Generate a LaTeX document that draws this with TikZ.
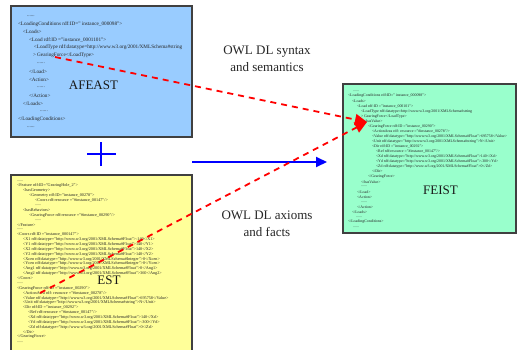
\documentclass[tikz,border=0pt]{standalone}
\usepackage{fontspec}
\setmainfont{Liberation Serif}
\usetikzlibrary{arrows.meta}
\definecolor{afeblue}{RGB}{153,204,255}
\definecolor{estyellow}{RGB}{255,255,153}
\definecolor{feistgreen}{RGB}{153,255,204}
\definecolor{owlred}{RGB}{255,0,0}
\definecolor{flowblue}{RGB}{0,0,255}
\tikzset{
  docbox/.style={draw=black!75, line width=1.2pt, anchor=north west, inner sep=0pt, outer sep=0pt},
  xmlbase/.style={anchor=west, inner sep=0pt, outer sep=0pt, text=black!85},
  afetext/.style={xmlbase, font=\fontsize{5.2}{6}\selectfont},
  esttext/.style={xmlbase, font=\fontsize{4.2}{5}\selectfont},
  feisttext/.style={xmlbase, font=\fontsize{3.9}{4.5}\selectfont},
  boxtitle/.style={inner sep=0pt, font=\fontsize{13}{15}\selectfont, text=black!90},
  mapping/.style={align=center, inner sep=0pt, font=\fontsize{13}{17}\selectfont, text=black!85},
  mapline/.style={draw=owlred, line width=1.8pt, dash pattern=on 6pt off 5pt,
    -{Triangle[length=12pt,width=11pt]}},
  flowline/.style={draw=flowblue, line width=2pt, -{Triangle[length=11pt,width=10pt]}}
}
\begin{document}
\begin{tikzpicture}[x=1pt, y=-1pt]
\useasboundingbox (0,0) rectangle (517,349);
\clip (0,0) rectangle (517,349);
\fill[white] (0,0) rectangle (517,349);

% the three documents
\node[docbox, fill=afeblue, minimum width=181pt, minimum height=131pt] (afeastbox) at (11,6) {};
\node[docbox, fill=estyellow, minimum width=181pt, minimum height=180pt] (estbox) at (11,175) {};
\node[docbox, fill=feistgreen, minimum width=173pt, minimum height=149pt] (feistbox) at (343,84) {};

% AFEAST loading conditions
\foreach \x/\t [count=\i] in {
  27/{......},
  18/{<LoadingConditions rdf:ID=" instance\_000098">},
  23/{<Loads>},
  29/{<Load rdf:ID ="instance\_0001101">},
  34/{<LoadType rdf:datatype=http://www.w3.org/2001/XMLSchema\#string},
  33/{> GearingForce</LoadType>},
  37/{......},
  29/{</Load>},
  29/{<Action>},
  37/{......},
  29/{</Action>},
  23/{</Loads>},
  40/{......},
  18/{</LoadingConditions>},
  27/{......}}
  \node[afetext] (afe\i) at (\x,{16+7.93*(\i-1)}) {\t};

% EST feature description
\foreach \x/\t [count=\i] in {
  17/{......},
  17/{<Feature rdf:ID="GearingHole\_2">},
  23/{<hasGeometry>},
  29/{<Geometry rdf:ID="instance\_00278">},
  35/{<Coors rdf:resource ="\#instance\_00147"/>},
  35/{......},
  23/{<hasBehaviors>},
  29/{<GearingForce rdf:resource ="\#instance\_00290"/>},
  35/{......},
  17/{</Feature>},
  17/{......},
  17/{<Coors rdf:ID ="instance\_000147">},
  23/{<X1 rdf:datatype="http://www.w3.org/2001/XMLSchema\#Float">-140</X1>},
  23/{<Y1 rdf:datatype="http://www.w3.org/2001/XMLSchema\#Float">140</Y1>},
  23/{<X2 rdf:datatype="http://www.w3.org/2001/XMLSchema\#Float">140</X2>},
  23/{<Y2 rdf:datatype="http://www.w3.org/2001/XMLSchema\#Float">140</Y2>},
  23/{<Xcen rdf:datatype="http://www.w3.org/2001/XMLSchema\#Integer">0</Xcen>},
  23/{<Ycen rdf:datatype="http://www.w3.org/2001/XMLSchema\#Integer">0</Ycen>},
  23/{<Ang1 rdf:datatype="http://www.w3.org/2001/XMLSchema\#Float">0</Ang1>},
  23/{<Ang2 rdf:datatype="http://www.w3.org/2001/XMLSchema\#Float">360</Ang2>},
  17/{</Coors>},
  17/{......},
  17/{<GearingForce rdf:ID ="instance\_00290">},
  23/{<ActionArea rdf: resource ="\#instance\_00278"/>},
  23/{<Value rdf:datatype="http://www.w3.org/2001/XMLSchema\#Float">695758</Value>},
  23/{<Unit rdf:datatype="http://www.w3.org/2001/XMLSchema\#string">N</Unit>},
  23/{<Dir rdf:ID ="instance\_00292">},
  28/{<Ref rdf:resource ="\#instance\_00147"/>},
  28/{<Xd rdf:datatype="http://www.w3.org/2001/XMLSchema\#Float">140</Xd>},
  28/{<Yd rdf:datatype="http://www.w3.org/2001/XMLSchema\#Float">-300</Yd>},
  28/{<Zd rdf:datatype="http://www.w3.org/2001/XMLSchema\#Float">0</Zd>},
  23/{</Dir>},
  17/{</GearingForce>},
  17/{......}}
  \node[esttext] (est\i) at (\x,{181+4.875*(\i-1)}) {\t};

% FEIST integrated loading conditions
\foreach \x/\t [count=\i] in {
  353/{......},
  348/{<LoadingConditions rdf:ID=" instance\_000098">},
  352/{<Loads>},
  357/{<Load rdf:ID ="instance\_000101">},
  361/{<LoadType rdf:datatype=http://www.w3.org/2001/XMLSchema\#string},
  361/{> GearingForce</LoadType>},
  364/{<hasValue>},
  368/{<GearingForce rdf:ID ="instance\_00290">},
  372/{<ActionArea rdf: resource ="\#instance\_00278"/>},
  372/{<Value rdf:datatype="http://www.w3.org/2001/XMLSchema\#Float">695758</Value>},
  372/{<Unit rdf:datatype="http://www.w3.org/2001/XMLSchema\#string">N</Unit>},
  372/{<Dir rdf:ID ="instance\_00292">},
  376/{<Ref rdf:resource ="\#instance\_00147"/>},
  376/{<Xd rdf:datatype="http://www.w3.org/2001/XMLSchema\#Float">140</Xd>},
  376/{<Yd rdf:datatype="http://www.w3.org/2001/XMLSchema\#Float">-300</Yd>},
  376/{<Zd rdf:datatype="http://www.w3.org/2001/XMLSchema\#Float">0</Zd>},
  372/{</Dir>},
  368/{</GearingForce>},
  361/{</hasValue>},
  361/{......},
  357/{</Load>},
  357/{<Action>},
  361/{......},
  357/{</Action>},
  352/{</Loads>},
  356/{......},
  348/{</LoadingConditions>},
  353/{......}}
  \node[feisttext] (feist\i) at (\x,{91+5.04*(\i-1)}) {\t};

% document titles
\node[boxtitle] (afeasttitle) at (93.5,85.5) {AFEAST};
\node[boxtitle] (esttitle) at (109,280) {EST};
\node[boxtitle] (feisttitle) at (440.5,190) {FEIST};

% mapping labels
\node[mapping] (syntaxlabel) at (267,58.5) {OWL DL syntax\\and semantics};
\node[mapping] (axiomlabel) at (267,223.5) {OWL DL axioms\\and facts};

% combination sign and integration arrow
\coordinate (plusc) at (101,154);
\draw[flowblue, line width=1.6pt] ([xshift=-14pt]plusc) -- ([xshift=15pt]plusc);
\draw[flowblue, line width=1.6pt] ([yshift=-12pt]plusc) -- ([yshift=12pt]plusc);
\coordinate (flowstart) at (192,162);
\coordinate (flowend) at (327,162);
\draw[flowline] (flowstart) -- (flowend);

% OWL mappings into the integrated model
\coordinate (afesrc) at (55,57);
\coordinate (estsrc) at (40,293);
\coordinate (feisttgt) at (367,122);
\draw[mapline] (afesrc) -- (feisttgt);
\draw[mapline] (estsrc) -- (feisttgt);
\end{tikzpicture}
\end{document}
